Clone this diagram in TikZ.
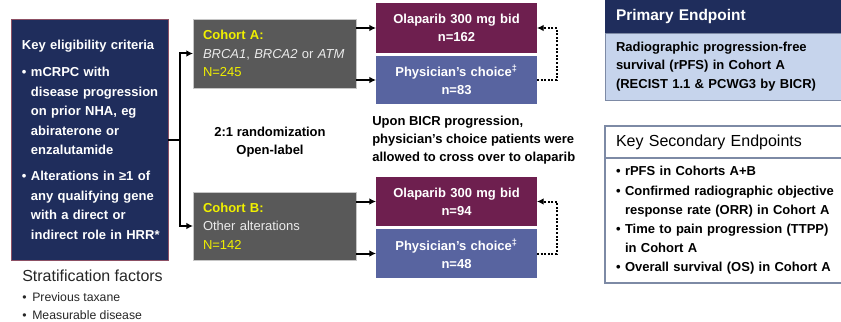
\documentclass[tikz,border=0pt]{standalone}
\usepackage{fontspec}
\setmainfont{Liberation Sans}
\usepackage{xcolor}
\usepackage{tikz}
\usetikzlibrary{arrows.meta, positioning}

\definecolor{navy}{RGB}{31,45,92}
\definecolor{eligline}{RGB}{140,80,100}
\definecolor{cohgray}{RGB}{89,89,89}
\definecolor{cohtext}{RGB}{235,235,235}
\definecolor{cyellow}{RGB}{240,240,0}
\definecolor{olacol}{RGB}{110,31,79}
\definecolor{phycol}{RGB}{88,100,160}
\definecolor{lightblue}{RGB}{198,212,236}
\definecolor{framegray}{RGB}{125,138,165}

\newcommand{\bul}[1][6.75pt]{\makebox[#1][l]{•}}
\newcommand{\ind}{\hspace*{6.75pt}}

\tikzset{
  padbox/.style={rectangle, anchor=north west, inner xsep=0pt, inner ysep=0pt,
    outer sep=0pt, align=left, execute at begin node={\leftskip=#1\relax}},
  cohortbox/.style={padbox=7.5pt, fill=cohgray, draw=gray!45, text=cohtext,
    text width=122.25pt, font=\fontsize{9.75}{13.9}\selectfont},
  armbox/.style={rectangle, anchor=north west, inner sep=0pt, outer sep=0pt,
    text=white, align=center, text width=120.75pt,
    font=\bfseries\fontsize{9.75}{13.5}\selectfont},
  link/.style={line width=1.5pt},
  arr/.style={link, ->},
  xover/.style={->, line width=1.5pt, dash pattern=on 1.5pt off 1.2pt}
}

\begin{document}
\begin{tikzpicture}[x=0.75pt, y=-0.75pt, >={Latex[length=5pt,width=5pt]}]
    \useasboundingbox (0,0) rectangle (841,321);

    % Eligibility
    \node[padbox=8.25pt, fill=navy, draw=eligline, line width=0.6pt, text=white,
        text width=117.75pt, minimum height=180.75pt,
        font=\bfseries\fontsize{9.75}{14.6}\selectfont] (elig) at (11,19)
        {Key eligibility criteria\\[6pt]
         \bul mCRPC with\\ \ind disease progression\\ \ind on prior NHA, eg\\
         \ind abiraterone or\\ \ind enzalutamide\\[4.9pt]
         \bul Alterations in ≥1 of\\ \ind any qualifying gene\\
         \ind with a direct or\\ \ind indirect role in HRR*};

    \node[anchor=west, inner sep=0pt, text=black!85,
        font=\fontsize{12}{14}\selectfont] (strat) at (22,276) {Stratification factors};
    \node[anchor=west, inner sep=0pt, align=left, text=black!85,
        font=\fontsize{9.2}{13.5}\selectfont] (stratlist) at (22,306)
        {\bul[7.5pt]Previous taxane\\ \bul[7.5pt]Measurable disease};

    % Cohorts
    \node[cohortbox, minimum height=51.75pt] (cohA) at (193,19)
        {{\color{cyellow}\bfseries Cohort A:}\\
         \textit{BRCA1}, \textit{BRCA2} or \textit{ATM}\\
         {\color{cyellow}N=245}};
    \node[cohortbox, minimum height=51pt] (cohB) at (193,192)
        {{\color{cyellow}\bfseries Cohort B:}\\
         Other alterations\\
         {\color{cyellow}N=142}};

    \node[align=center, inner sep=0pt,
        font=\bfseries\fontsize{9.75}{13.5}\selectfont] (rand) at (270,142)
        {2:1 randomization\\Open-label};

    % Arms
    \node[armbox, fill=olacol, minimum height=37.5pt] (olaA) at (376,3)
        {Olaparib 300 mg bid\\n=162};
    \node[armbox, fill=phycol, minimum height=36pt, below=2.25pt of olaA.south west,
        anchor=north west] (phyA) {Physician’s choice\textsuperscript{‡}\\n=83};
    \node[armbox, fill=olacol, minimum height=36.75pt] (olaB) at (376,177)
        {Olaparib 300 mg bid\\n=94};
    \node[armbox, fill=phycol, minimum height=36.75pt, below=2.25pt of olaB.south west,
        anchor=north west] (phyB) {Physician’s choice\textsuperscript{‡}\\n=48};

    \node[anchor=west, align=left, inner sep=0pt,
        font=\bfseries\fontsize{9.75}{13.5}\selectfont] (cross) at (372,140)
        {Upon BICR progression,\\physician's choice patients were\\allowed to cross over to olaparib};

    % Endpoints
    \node[padbox=8.25pt, fill=navy, text=white, text width=180pt, minimum height=24.75pt,
        font=\bfseries\fontsize{11.6}{14}\selectfont] (primhead) at (605,0)
        {Primary Endpoint};
    \node[padbox=8.25pt, fill=lightblue, draw=framegray, line width=0.6pt,
        text width=180pt, minimum height=50.25pt, below=0pt of primhead,
        font=\bfseries\fontsize{9.75}{13.8}\selectfont] (primbody)
        {Radiographic progression-free\\survival (rPFS) in Cohort A\\(RECIST 1.1 \& PCWG3 by BICR)};

    \node[padbox=8.25pt, fill=white, draw=framegray, line width=1.1pt,
        text width=200pt, minimum height=24pt,
        font=\fontsize{12}{14}\selectfont] (sechead) at (605,126)
        {Key Secondary Endpoints};
    \node[padbox=8.25pt, fill=white, draw=framegray, line width=1.1pt,
        text width=200pt, minimum height=93.75pt, below=0pt of sechead,
        font=\bfseries\fontsize{9.75}{14.4}\selectfont] (secbody)
        {\bul rPFS in Cohorts A+B\\
         \bul Confirmed radiographic objective\\ \ind response rate (ORR) in Cohort A\\
         \bul Time to pain progression (TTPP)\\ \ind in Cohort A\\
         \bul Overall survival (OS) in Cohort A};

    % Connectors
    \coordinate (split) at ([xshift=9pt]elig.east);
    \draw[arr] (elig.east) -- (split) |- (cohA.west);
    \draw[arr] (split) |- (cohB.west);

    \draw[arr] (cohA.east |- olaA.west) -- (olaA.west);
    \draw[arr] (cohA.east |- phyA.west) -- (phyA.west);
    \draw[arr] (cohB.east |- olaB.west) -- (olaB.west);
    \draw[arr] (cohB.east |- phyB.west) -- (phyB.west);

    \draw[xover] (phyA.east) -- ++(20,0) |- (olaA.east);
    \draw[xover] (phyB.east) -- ++(20,0) |- (olaB.east);
\end{tikzpicture}
\end{document}
